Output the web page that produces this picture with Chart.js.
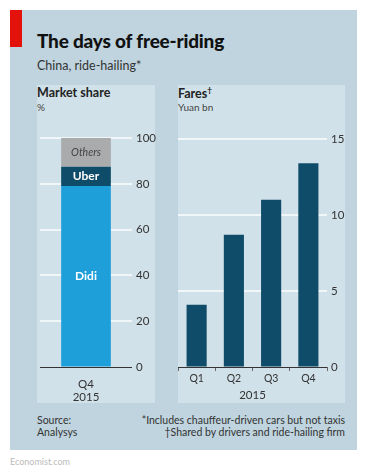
<!DOCTYPE html>
<html>
<head>
<meta charset="utf-8">
<script src="https://cdn.jsdelivr.net/npm/chart.js@4"></script>
<style>
  html, body { margin: 0; padding: 0; background: #fff; }
  body { width: 367px; height: 468px; position: relative; overflow: hidden; font-family: Lato, "Noto Sans", sans-serif; color: #1a1a1a; }
  .abs { position: absolute; white-space: nowrap; }
  #achtergrond { left: 10px; top: 10px; width: 347px; height: 440px; background: #bfd4de; }
  #rood { left: 10px; top: 10px; width: 12px; height: 37px; background: #e3120b; }
  .paneel { background: #d1e1e9; top: 85px; height: 318px; }
  #titel { left: 37px; top: 29px; font-size: 19px; font-weight: 900; color: #111; letter-spacing: -0.2px; }
  #sub { left: 37px; top: 58px; font-size: 12.5px; color: #333; }
  .kop { font-size: 12.5px; font-weight: 700; color: #222; top: 85px; }
  .eenheid { font-size: 10px; color: #444; top: 101px; }
  .noot { font-size: 10.5px; color: #333; line-height: 12px; }
  #site { left: 10px; top: 456px; font-size: 9px; color: #bbb; }
  canvas { position: absolute; }
</style>
</head>
<body>
<div class="abs" id="achtergrond"></div>
<div class="abs" id="rood"></div>
<div class="abs paneel" style="left:37px;width:118px"></div>
<div class="abs paneel" style="left:178px;width:167px"></div>
<div class="abs" id="titel">The days of free-riding</div>
<div class="abs" id="sub">China, ride-hailing*</div>
<div class="abs kop" style="left:37px">Market share</div>
<div class="abs eenheid" style="left:37px">%</div>
<div class="abs kop" style="left:178px">Fares<sup style="font-size:8px">†</sup></div>
<div class="abs eenheid" style="left:178px">Yuan bn</div>
<canvas id="aandeel" width="127" height="280" style="left:37px;top:122px"></canvas>
<canvas id="ritprijzen" width="172" height="280" style="left:178px;top:122px"></canvas>
<div class="abs noot" style="left:37px;top:414px">Source:<br>Analysys</div>
<div class="abs noot" style="right:22px;top:414px;text-align:right">*Includes chauffeur-driven cars but not taxis<br>†Shared by drivers and ride-hailing firm</div>
<div class="abs" id="site">Economist.com</div>
<script>
const AANDEEL_LABELS = [['Q4', '2015']];
const DIDI = [79];
const UBER = [8.5];
const OVERIG = [12.5];
const KWARTALEN = ['Q1', 'Q2', 'Q3', 'Q4'];
const RITPRIJZEN = [4.1, 8.7, 11.0, 13.4];
const AANDEEL_STAP = 20;
const PRIJS_STAP = 5;

const TEKST = '#333';
const FONT = { family: 'Lato, "Noto Sans", sans-serif', size: 11 };

Chart.defaults.font.family = FONT.family;
Chart.defaults.color = TEKST;

// tekst midden in elk balkstuk
const balkTekst = {
  id: 'balkTekst',
  afterDatasetsDraw(chart) {
    const ctx = chart.ctx;
    chart.data.datasets.forEach((ds, i) => {
      if (!ds.tekst) return;
      const meta = chart.getDatasetMeta(i);
      meta.data.forEach(el => {
        const { x, y } = el.getCenterPoint();
        ctx.save();
        ctx.font = ds.tekst.font;
        ctx.fillStyle = ds.tekst.kleur;
        ctx.textAlign = 'center';
        ctx.textBaseline = 'middle';
        ctx.fillText(ds.label, x, y);
        ctx.restore();
      });
    });
  }
};

function rasterKleur(c) {
  return c.tick && c.tick.value === 0 ? '#333' : '#f1f6f9';
}
function rasterDikte(c) {
  return c.tick && c.tick.value === 0 ? 1 : 2;
}

new Chart(document.getElementById('aandeel'), {
  type: 'bar',
  data: {
    labels: AANDEEL_LABELS,
    datasets: [
      { label: 'Didi', data: DIDI, backgroundColor: '#1f9fd9', tekst: { font: 'bold 12px Lato, sans-serif', kleur: '#fff' } },
      { label: 'Uber', data: UBER, backgroundColor: '#0f4c69', tekst: { font: 'bold 12px Lato, sans-serif', kleur: '#fff' } },
      { label: 'Others', data: OVERIG, backgroundColor: '#a9abad', tekst: { font: 'italic 10.5px Lato, sans-serif', kleur: '#444' } },
    ]
  },
  options: {
    responsive: false,
    animation: false,
    layout: { padding: { top: 16, left: 3, right: 0, bottom: 0 } },
    plugins: { legend: { display: false }, tooltip: { enabled: false } },
    datasets: { bar: { barPercentage: 0.54, categoryPercentage: 1 } },
    scales: {
      x: {
        stacked: true,
        grid: { display: false },
        border: { display: false },
        ticks: { font: { size: 11.5 }, color: TEKST, padding: 2 },
        afterFit: s => { s.height = 35; }
      },
      y: {
        stacked: true,
        position: 'right',
        min: 0, max: 100,
        border: { display: false },
        grid: { color: rasterKleur, lineWidth: rasterDikte, drawTicks: false },
        ticks: { stepSize: AANDEEL_STAP, font: { size: 11.5 }, color: TEKST, padding: 4 },
        afterFit: s => { s.width = 32; }
      }
    }
  },
  plugins: [balkTekst]
});

new Chart(document.getElementById('ritprijzen'), {
  type: 'bar',
  data: {
    labels: KWARTALEN,
    datasets: [{ label: 'Fares', data: RITPRIJZEN, backgroundColor: '#0f4c69' }]
  },
  options: {
    responsive: false,
    animation: false,
    layout: { padding: { top: 17, left: 0, right: 0, bottom: 0 } },
    plugins: { legend: { display: false }, tooltip: { enabled: false } },
    datasets: { bar: { barPercentage: 0.54, categoryPercentage: 1 } },
    scales: {
      x: {
        offset: true,
        grid: { display: true, drawOnChartArea: false, offset: true, tickLength: 4, color: '#666' },
        border: { display: false },
        ticks: { font: { size: 10.5 }, color: TEKST, padding: 1 },
        title: { display: true, text: '2015', font: { size: 11.5 }, color: TEKST, padding: 0 },
        afterFit: s => { s.height = 35; }
      },
      y: {
        position: 'right',
        min: 0, max: 15,
        border: { display: false },
        grid: { color: rasterKleur, lineWidth: rasterDikte, drawTicks: false },
        ticks: { stepSize: PRIJS_STAP, font: { size: 11.5 }, color: TEKST, padding: 4 },
        afterFit: s => { s.width = 23; }
      }
    }
  }
});
</script>
</body>
</html>
